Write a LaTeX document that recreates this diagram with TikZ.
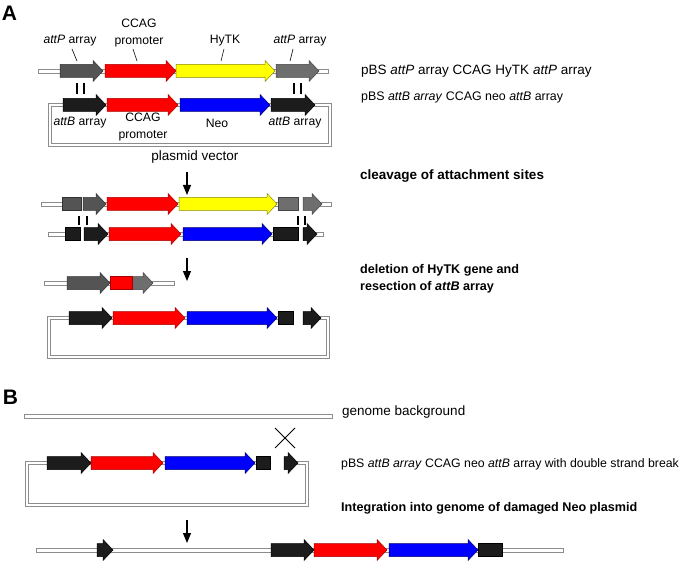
\documentclass[tikz,border=0pt]{standalone}
\usepackage{fontspec}
\setmainfont{Liberation Sans}
\usetikzlibrary{arrows.meta}
\definecolor{gA}{HTML}{545454}
\definecolor{gAb}{HTML}{333333}
\definecolor{gB}{HTML}{6E6E6E}
\definecolor{gBb}{HTML}{444444}
\definecolor{blk}{HTML}{1C1C1C}
\definecolor{rd}{HTML}{FF0000}
\definecolor{rdb}{HTML}{A80000}
\definecolor{yl}{HTML}{FFFF00}
\definecolor{ylb}{HTML}{8A8A00}
\definecolor{bl}{HTML}{0000FF}
\definecolor{blb}{HTML}{000070}
\definecolor{dnag}{HTML}{8C8C8C}
\tikzset{
  dnabar/.style={fill=white, draw=dnag, line width=0.9pt},
  dnaloop/.style={draw=dnag, double=white, double distance=2pt, line width=0.9pt},
  genebox/.style={line width=0.5pt},
  lbl/.style={inner sep=0pt, font=\fontsize{12.2}{15}\selectfont},
  lbltwo/.style={inner sep=0pt, align=center, font=\fontsize{12.2}{16.5}\selectfont},
  hdr/.style={inner sep=0pt, anchor=west, font=\fontsize{13.5}{17}\selectfont},
  bhdr/.style={inner sep=0pt, anchor=west, align=left, font=\fontsize{12.6}{17}\selectfont\bfseries},
  panel/.style={inner sep=0pt, font=\fontsize{21}{21}\selectfont\bfseries},
  leader/.style={line width=0.6pt, black},
  tick/.style={line width=1.4pt, black},
  downarrow/.style={line width=1.1pt, -{Triangle[width=8pt,length=10pt]}},
}
\newcommand{\gen}[5]{\filldraw[genebox,fill=#4,draw=#5] (#1,#3-6.5) -- (#2-10,#3-6.5) -- (#2-10,#3-10.5) -- (#2,#3) -- (#2-10,#3+10.5) -- (#2-10,#3+6.5) -- (#1,#3+6.5) -- cycle;}
\newcommand{\blk}[5]{\filldraw[genebox,fill=#4,draw=#5] (#1,#3-6.5) rectangle (#2,#3+6.5);}
\newcommand{\dna}[3]{\filldraw[dnabar] (#1,#3-2) rectangle (#2,#3+2);}
\begin{document}
\begin{tikzpicture}[x=1pt,y=-1pt]
\useasboundingbox (0,0) rectangle (685,564);
\fill[white] (0,0) rectangle (685,564);

% ---------- panel A ----------
\node[panel] (pA) at (9.5,13.5) {A};

% row 1
\dna{38}{328}{71}
\gen{60}{103}{71}{gA}{gAb}
\gen{105}{176}{71}{rd}{rdb}
\gen{176}{275}{71}{yl}{ylb}
\gen{276}{319}{71}{gB}{gBb}

\node[lbl] (l1) at (70,41) {\textit{attP} array};
\node[lbltwo] (l2) at (139,33) {CCAG\\promoter};
\node[lbl] (l3) at (225,41) {HyTK};
\node[lbl] (l4) at (300,41) {\textit{attP} array};
\draw[leader] (72,49) -- (77,61);
\draw[leader] (133,49) -- (137,61);
\draw[leader] (224,49) -- (221,61);
\draw[leader] (293,49) -- (290,61);

\draw[tick] (77,83) -- (77,94);
\draw[tick] (84,83) -- (84,94);
\draw[tick] (294,83) -- (294,94);
\draw[tick] (301,83) -- (301,94);

% row 2 (plasmid)
\draw[dnaloop] (50,105) rectangle (330,145);
\gen{63}{106}{105}{blk}{black}
\gen{107}{178}{105}{rd}{rdb}
\gen{180}{270}{105}{bl}{blb}
\gen{271}{315}{105}{blk}{black}

\node[lbl] (l5) at (80,123) {\textit{attB} array};
\node[lbltwo] (l6) at (143,127) {CCAG\\promoter};
\node[lbl] (l7) at (217,123) {Neo};
\node[lbl] (l8) at (295,123) {\textit{attB} array};
\node[hdr, anchor=center] (l9) at (195,157) {plasmid vector};

\node[hdr] (t1) at (361,71) {pBS \textit{attP} array CCAG HyTK \textit{attP} array};
\node[hdr, font=\fontsize{12.4}{15}\selectfont] (t2) at (361,97) {pBS \textit{attB array} CCAG neo \textit{attB} array};

\coordinate (a1s) at (187,172);
\coordinate (a1e) at (187,195);
\draw[downarrow] (a1s) -- (a1e);

% row 3
\dna{41}{70}{204}
\dna{95}{285}{204}
\dna{310}{331}{204}
\blk{62}{81}{204}{gA}{gAb}
\gen{83}{106}{204}{gA}{gAb}
\gen{107}{178}{204}{rd}{rdb}
\gen{179}{277}{204}{yl}{ylb}
\blk{278}{298}{204}{gB}{gBb}
\gen{303}{322}{204}{gB}{gBb}

\node[bhdr, font=\fontsize{13.5}{17}\selectfont\bfseries] (t3) at (360,176) {cleavage of attachment sites};

\draw[tick] (79,216) -- (79,225);
\draw[tick] (87,216) -- (87,225);
\draw[tick] (298,216) -- (298,225);
\draw[tick] (305,216) -- (305,225);

% row 4
\dna{48}{72}{234}
\dna{95}{285}{234}
\dna{310}{323}{234}
\blk{65}{80}{234}{blk}{black}
\gen{84}{108}{234}{blk}{black}
\gen{109}{181}{234}{rd}{rdb}
\gen{183}{272}{234}{bl}{blb}
\blk{273}{298}{234}{blk}{black}
\gen{303}{317}{234}{blk}{black}

\coordinate (a2s) at (187,258);
\coordinate (a2e) at (187,281);
\draw[downarrow] (a2s) -- (a2e);

\node[bhdr] (t4) at (360,278.5) {deletion of HyTK gene and\\resection of \textit{attB} array};

% row 5
\dna{44}{174}{283}
\gen{67}{110}{283}{gA}{gAb}
\gen{132}{153}{283}{gB}{gBb}
\blk{110}{132}{283}{rd}{rdb}

% row 6 (plasmid)
\draw[dnaloop] (285,318) -- (49,318) -- (49,357) -- (328,357) -- (328,318) -- (310,318);
\gen{69}{112}{318}{blk}{black}
\gen{113}{185}{318}{rd}{rdb}
\gen{187}{277}{318}{bl}{blb}
\blk{278}{293}{318}{blk}{black}
\gen{303}{321}{318}{blk}{black}

% ---------- panel B ----------
\node[panel] (pB) at (10.5,397) {B};

\dna{24}{332}{416}
\node[hdr] (t5) at (342,412) {genome background};

\coordinate (x1) at (275,428);
\coordinate (x2) at (295,448);
\coordinate (x3) at (275,448);
\coordinate (x4) at (295,428);
\draw[line width=0.8pt] (x1) -- (x2);
\draw[line width=0.8pt] (x3) -- (x4);

\draw[dnaloop] (262,463) -- (27,463) -- (27,505) -- (307,505) -- (307,463) -- (290,463);
\gen{47}{91}{463}{blk}{black}
\gen{91}{163}{463}{rd}{rdb}
\gen{165}{255}{463}{bl}{blb}
\blk{256}{270}{463}{blk}{black}
\gen{284}{298}{463}{blk}{black}

\node[hdr, font=\fontsize{12.3}{15}\selectfont] (t6) at (341,464) {pBS \textit{attB array} CCAG neo \textit{attB} array with double strand break};
\node[bhdr] (t7) at (341,508) {Integration into genome of damaged Neo plasmid};

\coordinate (a3s) at (187,520);
\coordinate (a3e) at (187,543);
\draw[downarrow] (a3s) -- (a3e);

\dna{36}{563}{550}
\gen{97}{113}{550}{blk}{black}
\gen{271}{314}{550}{blk}{black}
\gen{314}{387}{550}{rd}{rdb}
\gen{389}{478}{550}{bl}{blb}
\blk{478}{502}{550}{blk}{black}
\end{tikzpicture}
\end{document}
